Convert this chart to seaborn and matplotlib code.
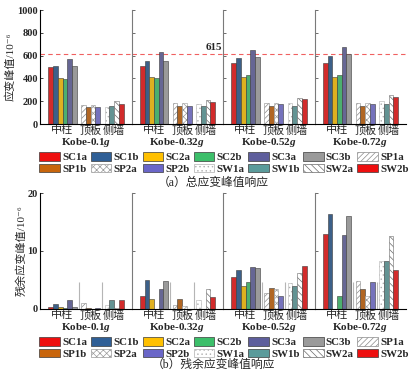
import matplotlib
matplotlib.use("Agg")
import matplotlib.pyplot as plt
import numpy as np
import pandas as pd
import seaborn as sns
from matplotlib.patches import Patch

# ---------------- data ----------------
facets = ["Kobe-0.1", "Kobe-0.32", "Kobe-0.52", "Kobe-0.72"]
groups = ["中柱", "顶板", "侧墙"]
sc_series = ["SC1a", "SC1b", "SC2a", "SC2b", "SC3a", "SC3b"]
sp_series = ["SP1a", "SP1b", "SP2a", "SP2b"]
sw_series = ["SW1a", "SW1b", "SW2a", "SW2b"]

# (a) total peak strain, one row per facet
total_sc = [[497, 509, 406, 392, 567, 509],
            [506, 553, 409, 401, 632, 553],
            [535, 582, 409, 430, 649, 588],
            [538, 594, 409, 430, 673, 614]]
total_sp = [[170, 149, 170, 149],
            [181, 161, 184, 155],
            [181, 161, 181, 173],
            [184, 161, 184, 173]]
total_sw = [[149, 158, 199, 173],
            [173, 158, 208, 196],
            [181, 158, 225, 216],
            [199, 175, 254, 234]]
# (b) residual peak strain
resid_sc = [[0.4, 0.9, 0.4, 0.2, 1.6, 0.4],
            [2.2, 5.0, 1.7, 0.0, 3.4, 4.8],
            [5.6, 6.7, 4.0, 4.7, 7.3, 7.0],
            [13.0, 16.4, 0.0, 2.3, 12.8, 16.1]]
resid_sp = [[1.05, 0.1, 0.0, 0.25],
            [0.75, 1.75, 0.6, 0.0],
            [2.8, 3.7, 3.5, 2.3],
            [4.9, 3.5, 2.3, 4.7]]
resid_sw = [[0.7, 1.6, 0.25, 1.6],
            [1.6, 0.0, 3.5, 2.1],
            [4.5, 3.9, 6.2, 7.5],
            [8.2, 8.3, 12.6, 6.7]]
threshold = 615

# ---------------- styles ----------------
all_series = sc_series + sp_series + sw_series
colors = {"SC1a": "#ee0f0f", "SC1b": "#2f5f96", "SC2a": "#ffc000", "SC2b": "#3cbf6a",
          "SC3a": "#5e5e9c", "SC3b": "#9a9a9a",
          "SP1a": "#ffffff", "SP1b": "#c8650c", "SP2a": "#ffffff", "SP2b": "#6a66c8",
          "SW1a": "#ffffff", "SW1b": "#5b9b9b", "SW2a": "#ffffff", "SW2b": "#ee0f0f"}
hatches = {"SP1a": "//////", "SP2a": "xxxxx", "SW1a": "....", "SW2a": "\\\\\\\\\\"}
hatch_edge = {"SP1a": "#8a8a8a", "SP2a": "#9a9a9a", "SW1a": "#b0b0b0", "SW2a": "#6a6a6a"}

sc_pos = [2, 3, 4, 5, 6, 7]
sp_pos = [9, 10, 11, 12]
sw_pos = [14, 15, 16, 17]
group_centers = [4.5, 10.5, 15.5]

sns.set_style("ticks")
plt.rcParams["font.family"] = ["Liberation Serif", "Noto Sans CJK SC", "DejaVu Sans"]
plt.rcParams["mathtext.fontset"] = "custom"
plt.rcParams["mathtext.rm"] = "Liberation Serif:bold"
plt.rcParams["mathtext.it"] = "Liberation Serif:italic:bold"
plt.rcParams["hatch.linewidth"] = 0.5


def build(sc, sp, sw):
    rows = []
    for fi, fac in enumerate(facets):
        for names, vals, pos in ((sc_series, sc[fi], sc_pos),
                                 (sp_series, sp[fi], sp_pos),
                                 (sw_series, sw[fi], sw_pos)):
            for n, v, p in zip(names, vals, pos):
                rows.append({"facet": fac, "series": n, "pos": p, "value": v})
    return pd.DataFrame(rows)


df_total = build(total_sc, total_sp, total_sw)
df_resid = build(resid_sc, resid_sp, resid_sw)

fig = plt.figure(figsize=(4.11, 3.75), dpi=100)
L, R = 40 / 411, 406 / 411


def make_row(df, bottom, top, ymax, yticks, ylabel, is_top):
    gs = fig.add_gridspec(1, 4, left=L, right=R, bottom=bottom, top=top, wspace=0)
    axes = []
    for i, fac in enumerate(facets):
        ax = fig.add_subplot(gs[0, i])
        sub = df[df["facet"] == fac]
        sns.barplot(data=sub, x="pos", y="value", hue="series", hue_order=all_series,
                    palette=colors, native_scale=True, dodge=False, width=1.0,
                    errorbar=None, legend=False, ax=ax,
                    edgecolor="#3a3a3a", linewidth=0.4)
        for name, cont in zip(all_series, ax.containers):
            if name in hatches:
                for p in cont.patches:
                    p.set_hatch(hatches[name])
                    p.set_edgecolor(hatch_edge[name])
        ax.set_xlim(-0.3, 19.2)
        ax.set_ylim(0, ymax)
        ax.set_yticks(yticks)
        ax.set_xticks(group_centers)
        ax.set_xticklabels(groups, fontsize=8)
        ax.tick_params(axis="x", length=0, pad=1)
        ax.set_xlabel(fac + "$g$", fontsize=8, fontweight="bold", labelpad=0)
        for s in ("top", "right"):
            ax.spines[s].set_visible(False)
        ax.spines["bottom"].set_color("black")
        ax.spines["bottom"].set_linewidth(0.8)
        if i == 0:
            ax.spines["left"].set_color("black")
            ax.spines["left"].set_linewidth(0.8)
            ax.tick_params(axis="y", direction="in", length=2.5, width=0.6,
                           labelsize=7.5, pad=1.5)
            for t in ax.get_yticklabels():
                t.set_fontweight("bold")
            ax.set_ylabel(ylabel, fontsize=8, labelpad=1)
        else:
            ax.spines["left"].set_color("#7a7a7a")
            ax.spines["left"].set_linewidth(0.8)
            ax.tick_params(axis="y", direction="in", length=2.5, width=0.6,
                           color="#555555", labelleft=False)
            ax.set_ylabel("")
        if is_top:
            ax.axhline(threshold, color="#f06060", ls=(0, (4, 3)), lw=0.8, zorder=0.5)
        else:
            ax.vlines([8, 13], 0, 4.7, color="#b5b5b5", lw=0.8, zorder=0.5)
        axes.append(ax)
    return axes


top_axes = make_row(df_total, 1 - 124 / 375, 1 - 10 / 375, 1000,
                    [0, 200, 400, 600, 800, 1000], "应变峰值/10⁻⁶", True)
top_axes[1].text(19.0, threshold + 18, str(threshold), ha="right", va="bottom",
                 fontsize=8, fontweight="bold")
bot_axes = make_row(df_resid, 1 - 309 / 375, 1 - 193 / 375, 20,
                    [0, 10, 20], "残余应变峰值/10⁻⁶", False)

# legends (row-major order for 7 columns)
handles = [Patch(facecolor=colors[n], edgecolor=hatch_edge.get(n, "#3a3a3a"),
                 hatch=hatches.get(n), linewidth=0.5) for n in all_series]
order = []
for j in range(7):
    order += [j, j + 7]
h_ord = [handles[k] for k in order]
l_ord = [all_series[k] for k in order]
for yc in (1 - 163 / 375, 1 - 348 / 375):
    fig.legend(h_ord, l_ord, ncol=7, loc="center", bbox_to_anchor=(0.545, yc),
               frameon=False, prop={"family": "Liberation Serif", "weight": "bold", "size": 7.8},
               handlelength=1.9, handleheight=0.85, handletextpad=0.2,
               columnspacing=0.33, labelspacing=0.1, borderpad=0)

fig.text(0.52, 1 - 183 / 375, "（a）总应变峰值响应", ha="center", va="center", fontsize=8.5)
fig.text(0.52, 1 - 365 / 375, "（b）残余应变峰值响应", ha="center", va="center", fontsize=8.5)

fig.savefig("out.png", dpi=100)
